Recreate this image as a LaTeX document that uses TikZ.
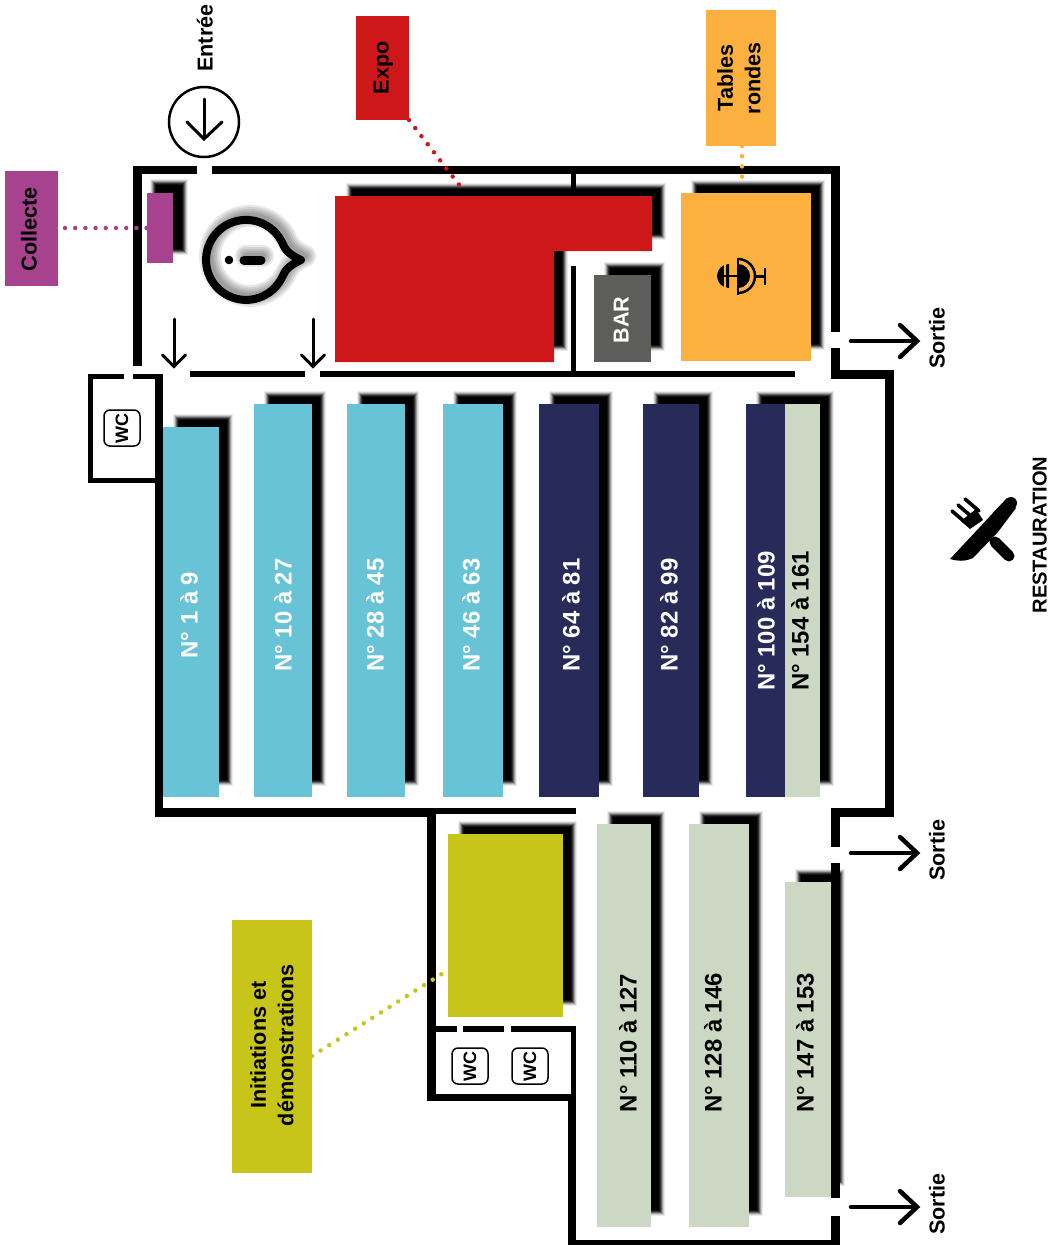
\documentclass[tikz,border=0pt]{standalone}
\usepackage{fontspec}
\setmainfont{Liberation Sans}
\definecolor{cteal}{HTML}{68C3D7}
\definecolor{cnavy}{HTML}{282A5A}
\definecolor{csage}{HTML}{CCD8C4}
\definecolor{cred}{HTML}{CE1719}
\definecolor{corange}{HTML}{FBB040}
\definecolor{cpurple}{HTML}{A7428F}
\definecolor{colive}{HTML}{C8C51A}
\definecolor{cgray}{HTML}{5D5D5B}
\tikzset{
  multilab/.style={font=\bfseries\fontsize{21.6}{27.5}\selectfont,rotate=90,inner sep=0pt,align=center},
  lab/.style={multilab,text height=17pt,text depth=2pt},
  numlab/.style={lab,font=\bfseries\fontsize{23.9}{26}\selectfont},
  roombox/.style={inner sep=0pt,outer sep=0pt,draw=none},
  dotline/.style={line width=4.5pt,line cap=round,dash pattern=on 0pt off 10.2pt},
  gateline/.style={line width=3pt,line cap=round,line join=miter},
  exitline/.style={line width=4.5pt,line cap=round,line join=miter},
  wcicon/.style={draw=black,line width=1.5pt,rounded corners=6pt,minimum width=36pt,minimum height=36pt,inner sep=0pt},
}
\newcommand\wall[4]{\fill[black] (#1,#2) rectangle (#3,#4);}
\newcommand\softshadow[1]{%
  \foreach \w/\o in {14/.08,12/.13,10/.225,8/.355,6/.5,4/.6,2/1}{%
    \path[draw=black,fill=black,line width=\w pt,draw opacity=\o,fill opacity=\o] #1;}}
\newcommand\rectshadow[4]{\softshadow{(#1+17,#2-6) rectangle (#3+7,#4-18)}}
\newcommand\room[6]{%
  \pgfmathsetmacro\rcx{(#2+#4)/2}\pgfmathsetmacro\rcy{(#3+#5)/2}%
  \pgfmathsetmacro\rw{#4-#2}\pgfmathsetmacro\rh{#5-#3}%
  \node[roombox,fill=#6,minimum width=\rw pt,minimum height=\rh pt] (#1) at (\rcx,\rcy) {};}
\newcommand\wcsign[3]{\node[wcicon] (#1) at (#2,#3) {\rotatebox{90}{\bfseries\fontsize{18}{18}\selectfont WC}};}
\newcommand\exitarrow[2]{\draw[exitline,-] (851,#1) -- (916,#1); \draw[exitline] (900,#1-16) -- (917,#1) -- (900,#1+16); \node[lab] (#2) at (937,#1-3) {Sortie};}
\newcommand\gatearrow[1]{\draw[gateline] (#1,319) -- (#1,366); \draw[gateline] (#1-11.5,355) -- (#1,366.5) -- (#1+11.5,355);}
\newcommand\bubblepath{(282.3,243) arc[start angle=-25,end angle=-335,radius=40] .. controls (285,270) and (290,265) .. (301,260) .. controls (290,255) and (285,250) .. cycle}
\begin{document}
\begin{tikzpicture}[x=1pt,y=-1pt]
\useasboundingbox (0,0) rectangle (1057,1245);
% shadows
\softshadow{(157,186) rectangle (181,248)}
\rectshadow{594}{275}{651}{362}
\rectshadow{681}{193}{811}{361}
\softshadow{(353,190) -- (659,190) -- (659,233) -- (561,233) -- (561,344) -- (353,344) -- cycle}
\rectshadow{163}{427}{219}{797}
\rectshadow{254}{404}{312}{797}
\rectshadow{347}{404}{405}{797}
\rectshadow{443}{404}{503}{797}
\rectshadow{539}{404}{599}{797}
\rectshadow{643}{404}{699}{797}
\rectshadow{746}{404}{820}{797}
\rectshadow{597}{824}{651}{1227}
\rectshadow{689}{824}{749}{1227}
\rectshadow{785}{882}{831}{1197}
\rectshadow{448}{834}{563}{1017}
% speech bubble shadow
\foreach \w in {22,18,14,10,6}{
  \draw[black,opacity=.09,line width=\w pt,line join=round,shift={(4,-4)}] \bubblepath;
  \draw[black,opacity=.09,line width=\w pt,shift={(2,-4)},line cap=round] (244,260) -- (261,260);
}
% walls
\wall{133}{166}{197}{174}
\wall{212}{166}{840}{174}
\wall{133}{166}{142}{366}
\wall{831}{166}{840}{332}
\wall{831}{348}{840}{379}
\wall{831}{370}{894}{379}
\wall{885}{370}{894}{817}
\wall{831}{808}{894}{817}
\wall{831}{808}{840}{847}
\wall{831}{863}{840}{1198}
\wall{831}{1216}{840}{1245}
\wall{568}{1240}{840}{1245}
\wall{568}{1094}{576}{1245}
\wall{427}{1094}{576}{1101}
\wall{427}{808}{436}{1101}
\wall{155}{808}{436}{817}
\wall{436}{808}{576}{814}
\wall{155}{374}{163}{817}
\wall{88}{374}{124}{379}
\wall{133}{374}{163}{379}
\wall{88}{374}{93}{483}
\wall{88}{478}{158}{483}
\wall{190}{371}{305}{377}
\wall{320}{371}{795}{377}
\wall{571}{174}{576}{196}
\wall{571}{266}{576}{371}
\wall{436}{1026}{457}{1032}
\wall{463}{1026}{504}{1032}
\wall{511}{1026}{576}{1032}
\wall{571}{1026}{576}{1100}
% rooms
\room{collecteroom}{147}{193}{173}{263}{cpurple}
\fill[cred] (335,196) -- (652,196) -- (652,251) -- (554,251) -- (554,362) -- (335,362) -- cycle;
\coordinate (exporoom) at (460,186);
\room{barroom}{594}{275}{651}{362}{cgray}
\room{tablesroom}{681}{193}{811}{361}{corange}
\room{r1}{163}{427}{219}{797}{cteal}
\room{r2}{254}{404}{312}{797}{cteal}
\room{r3}{347}{404}{405}{797}{cteal}
\room{r4}{443}{404}{503}{797}{cteal}
\room{r5}{539}{404}{599}{797}{cnavy}
\room{r6}{643}{404}{699}{797}{cnavy}
\room{r7}{746}{404}{785}{797}{cnavy}
\room{r8}{785}{404}{820}{797}{csage}
\room{r9}{597}{824}{651}{1227}{csage}
\room{r10}{689}{824}{749}{1227}{csage}
\room{r11}{785}{882}{831}{1197}{csage}
\room{initroom}{448}{834}{563}{1017}{colive}
% legend boxes
\room{expobox}{356}{16}{409}{120}{cred}
\room{tablesbox}{706}{10}{776}{146}{corange}
\room{collectebox}{5}{171}{58}{286}{cpurple}
\room{initbox}{232}{920}{312}{1173}{colive}
% dotted connectors
\coordinate (tablesend) at (742,186);
\coordinate (collectestart) at (65,228);
\coordinate (initstart) at (312,1056);
\coordinate (initend) at (448,970);
\coordinate (tablesstart) at (742,146);
\coordinate (collecteend) at (148,228);
\draw[dotline,cred] (expobox.south east) -- (exporoom);
\draw[dotline,corange] (tablesstart) -- (tablesend);
\draw[dotline,cpurple] (collectestart) -- (collecteend);
\draw[dotline,colive] (initstart) -- (initend);
% texts
\node[lab] (t1) at (381,68) {Expo};
\node[multilab] (t2) at (739,78) {Tables\\rondes};
\node[lab] (t3) at (29,229) {Collecte};
\node[multilab] (t4) at (272,1045) {Initiations et\\démonstrations};
\node[lab] (t5) at (205,38) {Entrée};
\node[lab,white] (t6) at (621,320) {BAR};
\node[numlab,white] (n1) at (190,615) {N° 1 à 9};
\node[numlab,white] (n2) at (284,615) {N° 10 à 27};
\node[numlab,white] (n3) at (376,615) {N° 28 à 45};
\node[numlab,white] (n4) at (472,615) {N° 46 à 63};
\node[numlab,white] (n5) at (572,615) {N° 64 à 81};
\node[numlab,white] (n6) at (670,615) {N° 82 à 99};
\node[numlab,white] (n7) at (767,621) {N° 100 à 109};
\node[numlab] (n8) at (801,621) {N° 154 à 161};
\node[numlab] (n9) at (629,1043) {N° 110 à 127};
\node[numlab] (n10) at (714,1043) {N° 128 à 146};
\node[numlab] (n11) at (806,1043) {N° 147 à 153};
\node[lab,font=\fontsize{20.1}{24}\selectfont\bfseries] (t7) at (1039,535) {RESTAURATION};
% WC
\wcsign{wc1}{122}{428}
\wcsign{wc2}{470}{1066}
\wcsign{wc3}{530}{1066}
% entrance
\node[draw=black,line width=2.5pt,circle,minimum size=70pt,inner sep=0pt] (entree) at (204,122) {};
\draw[gateline] (204,99) -- (204,138);
\draw[gateline] (187,122) -- (204,139) -- (222,122);
\gatearrow{174}
\gatearrow{313}
\exitarrow{341}{s1}
\exitarrow{853}{s2}
\exitarrow{1207}{s3}
% speech bubble
\draw[black,line width=8pt,line join=round] \bubblepath;
\fill[black] (229,260) circle[radius=4.3];
\draw[black,line width=9pt,line cap=round] (244,260) -- (261,260);
% microphone
\fill[black] (729,264) arc[start angle=-90,end angle=-270,radius=12] -- cycle;
\fill[corange] (724,262) rectangle (725.5,290);
\fill[corange] (730,262) rectangle (731.5,290);
\draw[black,line width=2pt] (717,276) -- (738,276);
\fill[black] (738,264) arc[start angle=-90,end angle=90,radius=12] -- cycle;
\draw[black,line width=2.5pt] (738,258) -- (738,295);
\draw[black,line width=2.5pt] (738,259) arc[start angle=-90,end angle=90,radius=17];
\draw[black,line width=2.5pt] (755,276.5) -- (765,276.5);
\draw[black,line width=2.5pt] (765,268) -- (765,285);
% cutlery: fork
\draw[black,line width=11pt,line cap=round] (995,542) -- (1009,556);
\fill[black] (961,521) -- (970,529) -- (983,520) -- (976,509) -- cycle;
\draw[black,line width=3.6pt,line cap=round] (966,523) -- (952,511);
\draw[black,line width=3.6pt,line cap=round] (972,517) -- (958,505);
\draw[black,line width=3.6pt,line cap=round] (979,511) -- (965,499);
% cutlery: knife
\draw[black,line width=12pt,line cap=round] (1011,503) -- (998,516);
\fill[black] (1007,498) -- (1016,508) -- (998,532) -- (973,558) .. controls (964,562) and (957,561) .. (950,559) -- cycle;
\end{tikzpicture}
\end{document}
